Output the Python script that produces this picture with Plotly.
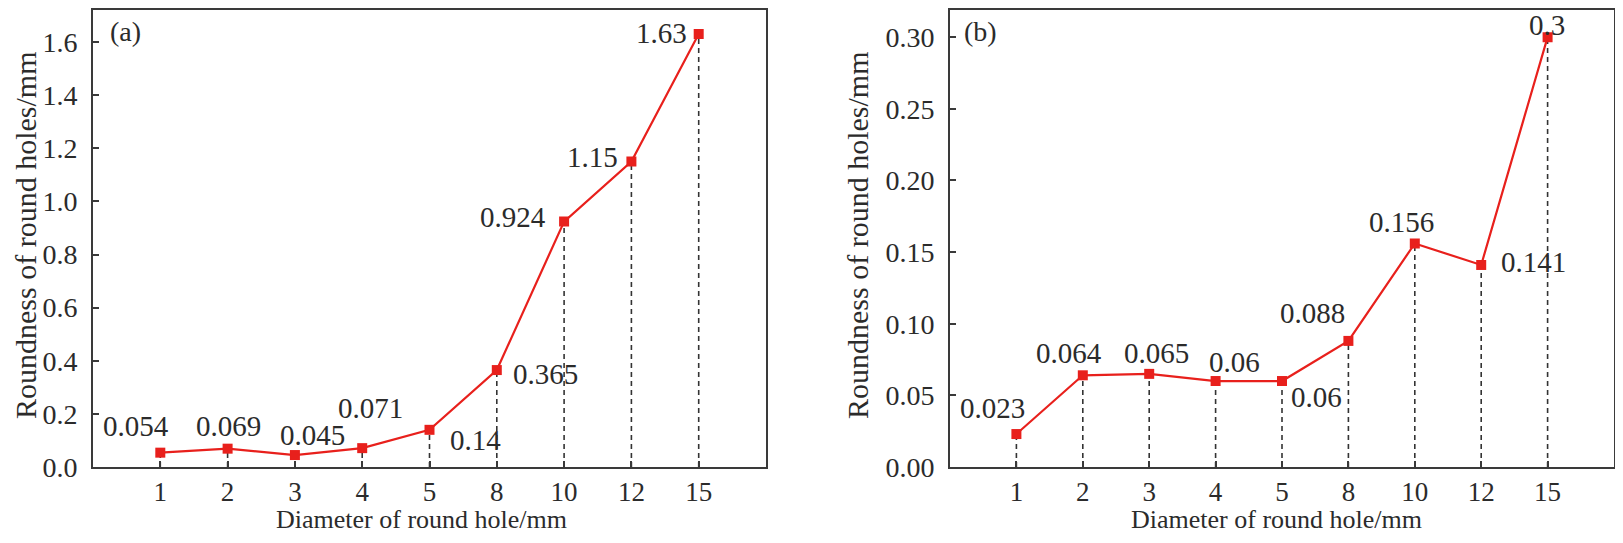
import plotly.graph_objects as go

# data
diameters = ["1", "2", "3", "4", "5", "8", "10", "12", "15"]
roundness_a = [0.054, 0.069, 0.045, 0.071, 0.14, 0.365, 0.924, 1.15, 1.63]
roundness_b = [0.023, 0.064, 0.065, 0.06, 0.06, 0.088, 0.156, 0.141, 0.3]
yticks_a = [0.0, 0.2, 0.4, 0.6, 0.8, 1.0, 1.2, 1.4, 1.6]
yticks_b = [0.00, 0.05, 0.10, 0.15, 0.20, 0.25, 0.30]

# label offsets (pixels) from each marker
shift_a = [(-24, 27), (1, 23), (18, 20), (8, 40), (46, -10), (49, -4), (-51, 5), (-39, 5), (-37, 1)]
shift_b = [(-24, 26), (-14, 22), (7, 21), (19, 19), (34, -16), (-36, 28), (-13, 21), (52, 3), (-1, 12)]

# the page body keeps an 8px margin, so the figure is 16px smaller than the window
W, H = 1607, 527
FONT = "Liberation Serif, Times New Roman, serif"
TXT = "#2b2b2b"
RED = "#e8201c"
FRAME = "#3a3a3a"


def fx(a, b):
    return [a / W, b / W]


def drops(vals):
    xs, ys = [], []
    for c, v in zip(diameters, vals):
        xs += [c, c, None]
        ys += [0, v, None]
    return xs, ys


fig = go.Figure()

for vals, xa, ya in [(roundness_a, "x", "y"), (roundness_b, "x2", "y2")]:
    dx, dy = drops(vals)
    fig.add_trace(go.Scatter(x=dx, y=dy, mode="lines", xaxis=xa, yaxis=ya,
                             line=dict(color="#333333", width=1.6, dash="5px,4px"),
                             hoverinfo="skip", showlegend=False))
    fig.add_trace(go.Scatter(x=diameters, y=vals, mode="lines+markers", xaxis=xa, yaxis=ya,
                             line=dict(color=RED, width=2.2),
                             marker=dict(symbol="square", size=10, color=RED),
                             showlegend=False))

annos = []
for vals, shifts, xa, ya in [(roundness_a, shift_a, "x", "y"), (roundness_b, shift_b, "x2", "y2")]:
    for i, (v, (sx, sy)) in enumerate(zip(vals, shifts)):
        annos.append(dict(x=i, y=v, xref=xa, yref=ya, text=str(v), showarrow=False,
                          xshift=sx, yshift=sy, xanchor="center", yanchor="middle",
                          font=dict(family=FONT, size=29, color=TXT)))

# panel tags
annos.append(dict(x=100 / W, y=1 - 24 / H, xref="paper", yref="paper", text="(a)",
                  showarrow=False, xanchor="left", yanchor="middle",
                  font=dict(family=FONT, size=28, color=TXT)))
annos.append(dict(x=954 / W, y=1 - 24 / H, xref="paper", yref="paper", text="(b)",
                  showarrow=False, xanchor="left", yanchor="middle",
                  font=dict(family=FONT, size=28, color=TXT)))

# axis titles
for cx in [18, 850]:
    annos.append(dict(x=cx / W, y=1 - 227 / H, xref="paper", yref="paper",
                      text="Roundness of round holes/mm", textangle=-90, showarrow=False,
                      xanchor="center", yanchor="middle",
                      font=dict(family=FONT, size=30, color=TXT)))
for cx in [413, 1268]:
    annos.append(dict(x=cx / W, y=0, xref="paper", yref="paper",
                      text="Diameter of round hole/mm", showarrow=False,
                      xanchor="center", yanchor="bottom", borderpad=0,
                      font=dict(family=FONT, size=26, color=TXT)))

axis_common = dict(showline=True, linecolor=FRAME, linewidth=2, mirror=True,
                   ticks="inside", ticklen=6, tickwidth=1.5, tickcolor=FRAME,
                   showgrid=False, zeroline=False, automargin=False)
xtick_font = dict(family=FONT, size=27, color=TXT)
ytick_font = dict(family=FONT, size=28, color=TXT)

ydom = [(H - 459) / H, (H - 1.5) / H]

fig.update_layout(
    width=W, height=H,
    margin=dict(l=0, r=0, t=0, b=0, pad=0),
    paper_bgcolor="white", plot_bgcolor="white",
    annotations=annos,
    xaxis=dict(domain=fx(85, 758), type="category", categoryorder="array",
               categoryarray=diameters, range=[-1, 9], anchor="y",
               ticklabelstandoff=0, tickfont=xtick_font, **axis_common),
    yaxis=dict(domain=ydom, range=[0, 1.7225], tickvals=yticks_a, tickformat=".1f",
               anchor="x", ticklabelstandoff=8, tickfont=ytick_font, **axis_common),
    xaxis2=dict(domain=fx(942, 1606), type="category", categoryorder="array",
                categoryarray=diameters, range=[-1, 9], anchor="y2",
                ticklabelstandoff=0, tickfont=xtick_font, **axis_common),
    yaxis2=dict(domain=ydom, range=[0, 0.3193], tickvals=yticks_b, tickformat=".2f",
                anchor="x2", ticklabelstandoff=8, tickfont=ytick_font, **axis_common),
)

fig.write_html("out.html")
